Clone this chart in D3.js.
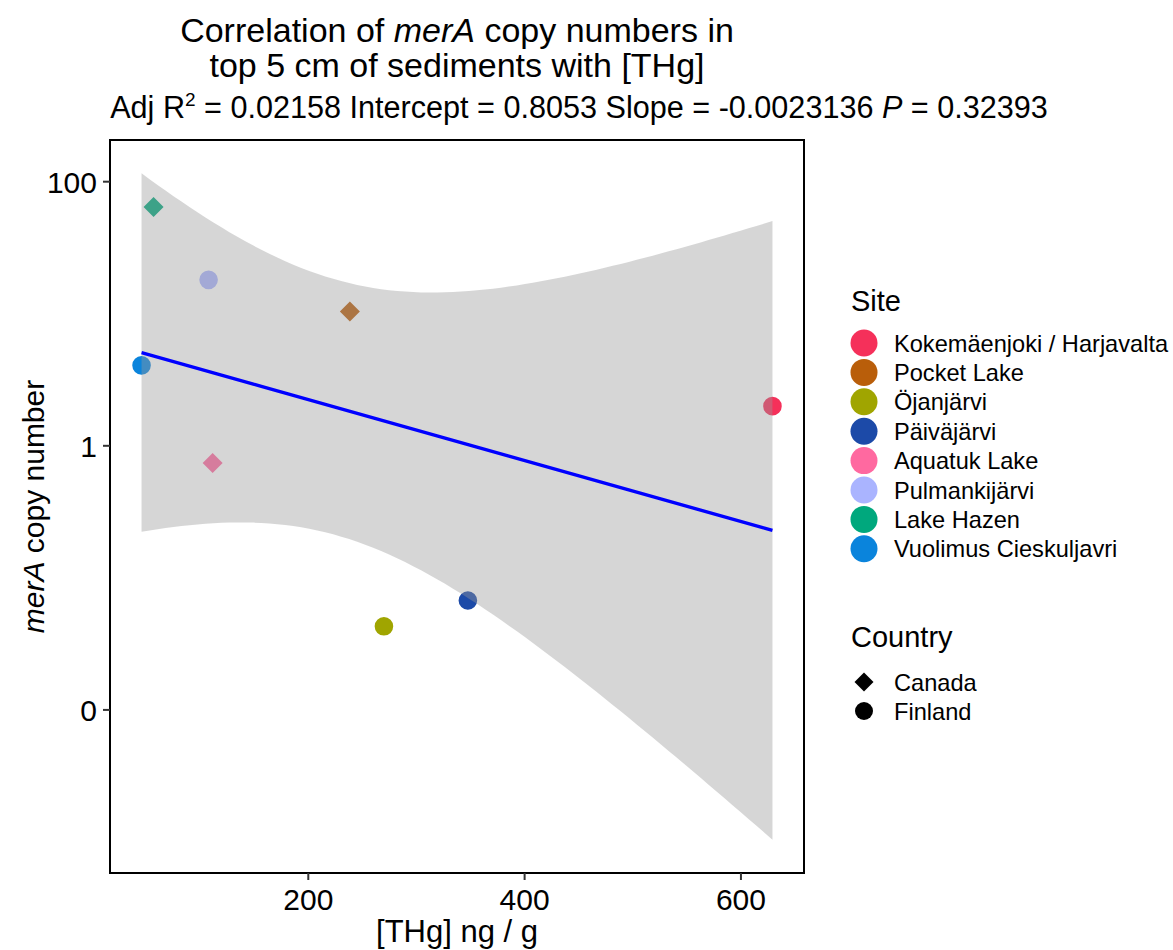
<!DOCTYPE html>
<html>
<head>
<meta charset="utf-8">
<script src="https://cdn.jsdelivr.net/npm/d3@7"></script>
<style>
  body { margin: 0; background: #fff; }
  text { font-family: "Liberation Sans", Arial, Helvetica, sans-serif; fill: #000; }
</style>
</head>
<body>
<div id="chart"></div>
<script>
// data
const sites = ['Kokemäenjoki / Harjavalta', 'Pocket Lake', 'Öjanjärvi', 'Päiväjärvi',
  'Aquatuk Lake', 'Pulmankijärvi', 'Lake Hazen', 'Vuolimus Cieskuljavri'];
const siteColors = ['#F5305A', '#B95E0A', '#A0A500', '#1C4AA8',
  '#FF69A0', '#AAB4FF', '#00A87D', '#0A84DC'];
const countries = ['Canada', 'Finland'];

const pointSite = ['Lake Hazen', 'Pulmankijärvi', 'Pocket Lake', 'Vuolimus Cieskuljavri',
  'Kokemäenjoki / Harjavalta', 'Aquatuk Lake', 'Päiväjärvi', 'Öjanjärvi'];
const pointCountry = ['Canada', 'Finland', 'Canada', 'Finland',
  'Finland', 'Canada', 'Finland', 'Finland'];
const thg = [57.4, 108.3, 238.9, 46.3, 629.6, 112, 348, 270.4];
const merA = [63.7, 17.9, 10.3, 4.03, 1.98, 0.734, 0.0668, 0.0426];

const xTicks = [200, 400, 600];
const yTicks = [100, 1, 0.01];
const yTickLabels = ['100', '1', '0'];

const statText = {r2: '0.02158', intercept: '0.8053', slope: '-0.0023136', p: '0.32393'};

const width = 1173, height = 950;
const panel = {left: 110, right: 804, top: 140, bottom: 873};

const svg = d3.select('#chart').append('svg')
  .attr('width', width).attr('height', height);

// linear fit of log10(merA) on THg, with 95% band (like geom_smooth(method = lm))
const pts = thg.map((x, i) => ({x: x, y: merA[i], ly: Math.log10(merA[i]),
  site: pointSite[i], country: pointCountry[i]}));
const n = pts.length;
const mx = d3.mean(pts, d => d.x), my = d3.mean(pts, d => d.ly);
const sxx = d3.sum(pts, d => (d.x - mx) ** 2);
const sxy = d3.sum(pts, d => (d.x - mx) * (d.ly - my));
const slope = sxy / sxx, icpt = my - slope * mx;
const sse = d3.sum(pts, d => (d.ly - icpt - slope * d.x) ** 2);
const s = Math.sqrt(sse / (n - 2));
const tq = 2.446912; // qt(0.975, 6)
const [xmin, xmax] = d3.extent(thg);
const band = d3.range(80).map(i => {
  const x = xmin + (xmax - xmin) * i / 79;
  const fit = icpt + slope * x;
  const half = tq * s * Math.sqrt(1 / n + (x - mx) ** 2 / sxx);
  return {x: x, fit: fit, lo: fit - half, hi: fit + half};
});

// ggplot-style 5% expansion
const xr = xmax - xmin;
const x = d3.scaleLinear().domain([xmin - 0.05 * xr, xmax + 0.05 * xr])
  .range([panel.left, panel.right]);
const lmin = Math.min(d3.min(band, d => d.lo), d3.min(pts, d => d.ly));
const lmax = Math.max(d3.max(band, d => d.hi), d3.max(pts, d => d.ly));
const lr = lmax - lmin;
const y = d3.scaleLog().domain([10 ** (lmin - 0.05 * lr), 10 ** (lmax + 0.05 * lr)])
  .range([panel.bottom, panel.top]);

const color = d3.scaleOrdinal().domain(sites).range(siteColors);

svg.append('clipPath').attr('id', 'clip').append('rect')
  .attr('x', panel.left).attr('y', panel.top)
  .attr('width', panel.right - panel.left).attr('height', panel.bottom - panel.top);

const plot = svg.append('g').attr('clip-path', 'url(#clip)');

const diamond = r => `M0,${-r}L${r},0L0,${r}L${-r},0Z`;

// points first, the ribbon is drawn over them
plot.selectAll('.pt').data(pts).enter()
  .append('path')
  .attr('class', 'pt')
  .attr('d', d => d.country === 'Canada' ? diamond(10) : d3.symbol().type(d3.symbolCircle).size(Math.PI * 9.3 * 9.3)())
  .attr('transform', d => `translate(${x(d.x)},${y(d.y)})`)
  .attr('fill', d => color(d.site));

plot.append('path')
  .datum(band)
  .attr('d', d3.area().x(d => x(d.x)).y0(d => y(10 ** d.lo)).y1(d => y(10 ** d.hi)))
  .attr('fill', '#999999')
  .attr('fill-opacity', 0.4);

plot.append('path')
  .datum(band)
  .attr('d', d3.line().x(d => x(d.x)).y(d => y(10 ** d.fit)))
  .attr('fill', 'none')
  .attr('stroke', '#0000FF')
  .attr('stroke-width', 3.2);

// panel border
svg.append('rect')
  .attr('x', panel.left).attr('y', panel.top)
  .attr('width', panel.right - panel.left).attr('height', panel.bottom - panel.top)
  .attr('fill', 'none').attr('stroke', '#000').attr('stroke-width', 2);

// axes
const xAxis = svg.append('g')
  .attr('transform', `translate(0,${panel.bottom})`)
  .call(d3.axisBottom(x).tickValues(xTicks).tickSize(7).tickPadding(6));
const yAxis = svg.append('g')
  .attr('transform', `translate(${panel.left},0)`)
  .call(d3.axisLeft(y).tickValues(yTicks).tickFormat((d, i) => yTickLabels[i]).tickSize(7).tickPadding(6));

[xAxis, yAxis].forEach(a => {
  a.select('.domain').remove();
  a.selectAll('.tick line').attr('stroke', '#333').attr('stroke-width', 2);
  a.selectAll('.tick text').attr('font-size', 30).attr('fill', '#000')
    .style('font-family', '"Liberation Sans", Arial, sans-serif');
});
xAxis.selectAll('.tick text').attr('dy', '0.8em');
yAxis.selectAll('.tick text').attr('dy', '0.36em');

// axis titles
svg.append('text')
  .attr('x', (panel.left + panel.right) / 2).attr('y', 942)
  .attr('text-anchor', 'middle').attr('font-size', 31)
  .text('[THg] ng / g');

const yt = svg.append('text')
  .attr('transform', `translate(44,${(panel.top + panel.bottom) / 2}) rotate(-90)`)
  .attr('text-anchor', 'middle').attr('font-size', 30);
yt.append('tspan').attr('font-style', 'italic').text('merA');
yt.append('tspan').text(' copy number');

// titles
const cx = (panel.left + panel.right) / 2;
const t1 = svg.append('text').attr('x', cx).attr('y', 42)
  .attr('text-anchor', 'middle').attr('font-size', 34);
t1.append('tspan').text('Correlation of ');
t1.append('tspan').attr('font-style', 'italic').text('merA');
t1.append('tspan').text(' copy numbers in');
svg.append('text').attr('x', cx).attr('y', 77)
  .attr('text-anchor', 'middle').attr('font-size', 34)
  .text('top 5 cm of sediments with [THg]');

const sub = svg.append('text').attr('x', 579).attr('y', 118)
  .attr('text-anchor', 'middle').attr('font-size', 30.6);
sub.append('tspan').text('Adj R');
sub.append('tspan').attr('font-size', 19).attr('dy', -12).text('2');
sub.append('tspan').attr('dy', 12).text(` = ${statText.r2} Intercept = ${statText.intercept} Slope = ${statText.slope} `);
sub.append('tspan').attr('font-style', 'italic').text('P');
sub.append('tspan').text(` = ${statText.p}`);

// legends
const leg = svg.append('g').attr('transform', 'translate(851,0)');
leg.append('text').attr('x', 0).attr('y', 311).attr('font-size', 29).text('Site');
const siteRow = leg.selectAll('.site').data(sites).enter().append('g')
  .attr('class', 'site')
  .attr('transform', (d, i) => `translate(0,${343 + i * 29.4})`);
siteRow.append('circle').attr('cx', 13).attr('cy', 0).attr('r', 13.5)
  .attr('fill', d => color(d));
siteRow.append('text').attr('x', 43).attr('y', 0).attr('dy', '0.36em')
  .attr('font-size', 23.6).text(d => d);

leg.append('text').attr('x', 0).attr('y', 647).attr('font-size', 29).text('Country');
const cRow = leg.selectAll('.ctry').data(countries).enter().append('g')
  .attr('class', 'ctry')
  .attr('transform', (d, i) => `translate(0,${682 + i * 29})`);
cRow.append('path')
  .attr('d', d => d === 'Canada' ? diamond(9.5) : d3.symbol().type(d3.symbolCircle).size(Math.PI * 9 * 9)())
  .attr('transform', 'translate(13,0)')
  .attr('fill', '#000');
cRow.append('text').attr('x', 43).attr('y', 0).attr('dy', '0.36em')
  .attr('font-size', 23.6).text(d => d);
</script>
</body>
</html>
